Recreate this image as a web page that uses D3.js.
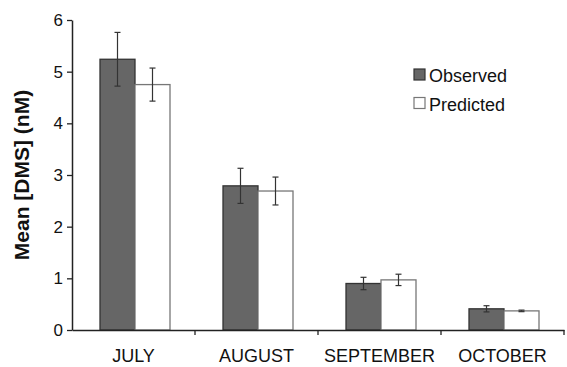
<!DOCTYPE html>
<html><head><meta charset="utf-8">
<script src="https://cdn.jsdelivr.net/npm/d3@7"></script>
<style>body{margin:0;background:#fff}svg{display:block}text{font-family:"Liberation Sans",Arial,sans-serif}</style>
</head><body>
<svg id="c" width="567" height="367"></svg>
<script>
const categories = ["JULY","AUGUST","SEPTEMBER","OCTOBER"];
const series = ["Observed","Predicted"];
const observed = [5.24, 2.79, 0.90, 0.41];
const observedErr = [0.52, 0.34, 0.12, 0.06];
const predicted = [4.75, 2.69, 0.97, 0.37];
const predictedErr = [0.32, 0.27, 0.11, 0.015];
const yTicks = [0,1,2,3,4,5,6];

const svg = d3.select("#c");
const m = {left:72, right:3, top:20, bottom:37};
const W = 567, H = 367;
const x = d3.scaleBand().domain(categories).range([m.left, W - m.right]).paddingInner(0).paddingOuter(0);
const inner = d3.scaleBand().domain(series).range([28, x.bandwidth()-25]);
const y = d3.scaleLinear().domain([0,6]).range([H - m.bottom, m.top]);
const colors = {Observed:"#666666", Predicted:"#ffffff"};
const strokes = {Observed:"#333333", Predicted:"#777777"};
const FONT = "Liberation Sans, Arial, sans-serif";

const data = categories.map((c,i)=>({c, vals:[
  {s:"Observed", v:observed[i], e:observedErr[i]},
  {s:"Predicted", v:predicted[i], e:predictedErr[i]}]}));

const g = svg.append("g");
const grp = g.selectAll("g.cat").data(data).join("g").attr("transform", d=>`translate(${x(d.c)},0)`);
grp.selectAll("rect").data(d=>d.vals).join("rect")
  .attr("x", d=>inner(d.s)).attr("width", inner.bandwidth())
  .attr("y", d=>y(d.v)).attr("height", d=>y(0)-y(d.v))
  .attr("fill", d=>colors[d.s]).attr("stroke", d=>strokes[d.s]).attr("stroke-width",1.3);

const eb = grp.selectAll("g.err").data(d=>d.vals).join("g").attr("class","err")
  .attr("transform", d=>`translate(${inner(d.s)+inner.bandwidth()/2},0)`);
eb.append("line").attr("y1", d=>y(d.v+d.e)).attr("y2", d=>y(d.v-d.e)).attr("stroke","#333").attr("stroke-width",1.2);
eb.append("line").attr("x1",-3).attr("x2",3).attr("y1", d=>y(d.v+d.e)).attr("y2", d=>y(d.v+d.e)).attr("stroke","#333").attr("stroke-width",1.2);
eb.append("line").attr("x1",-3).attr("x2",3).attr("y1", d=>y(d.v-d.e)).attr("y2", d=>y(d.v-d.e)).attr("stroke","#333").attr("stroke-width",1.2);

// y axis
const ya = svg.append("g").attr("transform",`translate(${m.left},0)`)
  .call(d3.axisLeft(y).tickValues(yTicks).tickFormat(d3.format("d")).tickSize(5).tickSizeOuter(0));
ya.select(".domain").attr("stroke","#222").attr("stroke-width",1.5);
ya.selectAll(".tick line").attr("stroke","#222").attr("stroke-width",1.3);
ya.selectAll(".tick text").attr("font-size",17).attr("fill","#111").attr("x",-9).style("font-family",FONT);

// x axis
const xa = svg.append("g").attr("transform",`translate(0,${y(0)})`)
  .call(d3.axisBottom(x).tickSize(0).tickSizeOuter(0));
xa.select(".domain").attr("stroke","#222").attr("stroke-width",1.5);
xa.selectAll(".tick text").attr("font-size",18).attr("fill","#111").attr("y",0).attr("dy",0)
  .attr("transform","translate(0,32)").style("font-family",FONT);
// category separator ticks
svg.append("g").selectAll("line").data(categories).join("line")
  .attr("x1", d=>x(d)+x.bandwidth()).attr("x2", d=>x(d)+x.bandwidth())
  .attr("y1", y(0)).attr("y2", y(0)+5).attr("stroke","#222").attr("stroke-width",1.3);

// y label
svg.append("text").attr("transform",`translate(29,${(y(0)+y(6))/2}) rotate(-90)`)
  .attr("text-anchor","middle").attr("font-size",21).attr("font-weight","bold").attr("fill","#111")
  .text("Mean [DMS] (nM)");

// legend
const lg = svg.append("g").attr("transform","translate(414,69)");
series.forEach((s,i)=>{
  const r = lg.append("g").attr("transform",`translate(0,${i*28.5})`);
  r.append("rect").attr("width",11).attr("height",11).attr("fill",colors[s]).attr("stroke",strokes[s]).attr("stroke-width",1.2);
  r.append("text").attr("x",15).attr("y",13).attr("font-size",18).attr("fill","#111").text(s);
});
</script>
</body></html>
